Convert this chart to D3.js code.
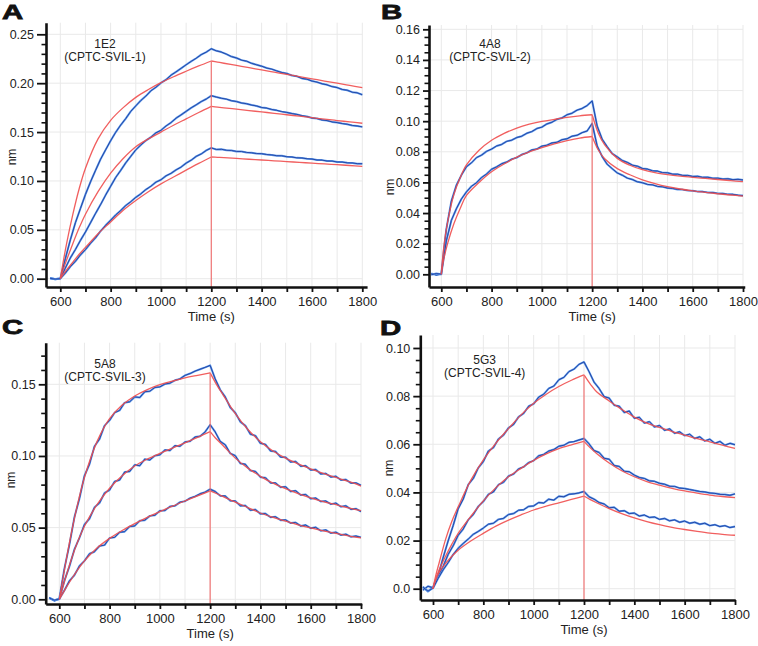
<!DOCTYPE html>
<html><head><meta charset="utf-8">
<script src="https://cdn.jsdelivr.net/npm/d3@7"></script>
<style>
body{margin:0;background:#fff;}
svg{display:block;font-family:"Liberation Sans",Arial,Helvetica,sans-serif;}
</style>
</head><body>
<svg id="chart" width="758" height="646"></svg>
<script>
// ---------- shared sampling times ----------
const blueTimes = [560,580,600,620,640,660,680,700,720,740,760,780,800,820,840,860,880,900,920,940,960,980,1000,1020,1040,1060,1080,1100,1120,1140,1160,1180,1200,
  1220,1240,1260,1280,1300,1320,1340,1360,1380,1400,1420,1440,1460,1480,1500,1520,1540,1560,1580,1600,1620,1640,1660,1680,1700,1720,1740,1760,1780,1800];
const fitRiseTimes = [600,610,625,650,675,700,750,800,850,900,950,1000,1050,1100,1150,1200];
const fitDecayTimes = [1200,1225,1250,1300,1350,1400,1450,1500,1550,1600,1650,1700,1750,1800];
const xTickValues = [600,700,800,900,1000,1100,1200,1300,1400,1500,1600,1700,1800];
const xTickLabels = ["600","","800","","1000","","1200","","1400","","1600","","1800"];
const xTitle = "Time (s)";
const yTitle = "nm";

// ---------- Panel A : 1E2 ----------
const aTitle = ["1E2", "(CPTC-SVIL-1)"];
const aYTicks = [0,0.05,0.10,0.15,0.20,0.25];
const aYLabels = ["0.00","0.05","0.10","0.15","0.20","0.25"];
const aBlue1 = [0.0008,-0.0006,0.0002,0.0205,0.0398,0.0572,0.0718,0.0862,0.0991,0.1108,0.1222,0.1318,0.1412,0.1497,0.1572,0.1638,0.1712,0.1768,0.1823,0.1868,0.1922,0.1958,0.2003,0.2036,0.2082,0.2116,0.2152,0.2188,0.2223,0.2255,0.2292,0.2318,0.2352,
  0.2331,0.2318,0.2297,0.2272,0.2258,0.2236,0.2225,0.2203,0.2188,0.2174,0.2155,0.2144,0.2126,0.2109,0.2099,0.2079,0.2070,0.2049,0.2041,0.2022,0.2011,0.1994,0.1983,0.1965,0.1955,0.1936,0.1928,0.1908,0.1901,0.1882];
const aBlue2 = [0.0004,-0.0005,0.0001,0.0108,0.0213,0.0298,0.0392,0.0478,0.0572,0.0668,0.0758,0.0855,0.0945,0.1035,0.1108,0.1185,0.1252,0.1318,0.1368,0.1413,0.1448,0.1492,0.1518,0.1562,0.1597,0.1642,0.1676,0.1712,0.1748,0.1779,0.1812,0.1838,0.1872,
  0.1858,0.1846,0.1837,0.1821,0.1812,0.1798,0.1790,0.1776,0.1767,0.1751,0.1745,0.1731,0.1722,0.1709,0.1701,0.1689,0.1681,0.1667,0.1659,0.1644,0.1638,0.1624,0.1617,0.1604,0.1597,0.1587,0.1580,0.1568,0.1562,0.1553];
const aBlue3 = [0.0003,-0.0004,0.0001,0.0058,0.0123,0.0178,0.0243,0.0298,0.0362,0.0418,0.0487,0.0546,0.0598,0.0652,0.0697,0.0748,0.0788,0.0832,0.0868,0.0912,0.0946,0.0988,0.1012,0.1052,0.1078,0.1113,0.1142,0.1182,0.1212,0.1251,0.1276,0.1312,0.1338,
  0.1322,0.1324,0.1314,0.1312,0.1302,0.1301,0.1292,0.1288,0.1280,0.1279,0.1270,0.1266,0.1258,0.1257,0.1248,0.1245,0.1236,0.1235,0.1227,0.1224,0.1214,0.1213,0.1204,0.1203,0.1194,0.1193,0.1185,0.1184,0.1177,0.1176];
const aFitRise1 = [0,0.015,0.036,0.066,0.092,0.113,0.143,0.162,0.175,0.1855,0.1935,0.2005,0.2066,0.2122,0.2176,0.2227];
const aFitDecay1 = [0.2227,0.2216,0.2204,0.2181,0.2158,0.2136,0.2113,0.2090,0.2068,0.2045,0.2022,0.2000,0.1977,0.1954];
const aFitRise2 = [0,0.008,0.019,0.036,0.052,0.066,0.089,0.108,0.123,0.135,0.143,0.150,0.157,0.1635,0.170,0.1762];
const aFitDecay2 = [0.1762,0.1755,0.1748,0.1734,0.1720,0.1706,0.1692,0.1677,0.1662,0.1647,0.1632,0.1618,0.1604,0.1590];
const aFitRise3 = [0,0.004,0.009,0.017,0.025,0.032,0.046,0.058,0.070,0.080,0.089,0.097,0.104,0.111,0.118,0.1245];
const aFitDecay3 = [0.1245,0.1242,0.1238,0.1230,0.1222,0.1214,0.1206,0.1198,0.1190,0.1182,0.1174,0.1166,0.1158,0.1148];

// ---------- Panel B : 4A8 ----------
const bTitle = ["4A8", "(CPTC-SVIL-2)"];
const bYTicks = [0,0.02,0.04,0.06,0.08,0.10,0.12,0.14,0.16];
const bYLabels = ["0.00","0.02","0.04","0.06","0.08","0.10","0.12","0.14","0.16"];
const bBlue1 = [0.0006,-0.0005,0.0002,0.0295,0.0478,0.0582,0.0648,0.0702,0.0728,0.0762,0.0778,0.0803,0.0818,0.0838,0.0848,0.0868,0.0876,0.0893,0.0902,0.0921,0.0932,0.0952,0.0961,0.0982,0.0993,0.1012,0.1021,0.1042,0.1052,0.1072,0.1083,0.1102,0.1132,
  0.0968,0.0882,0.0833,0.0788,0.0767,0.0743,0.0731,0.0713,0.0706,0.0691,0.0687,0.0676,0.0674,0.0664,0.0663,0.0654,0.0654,0.0646,0.0646,0.0639,0.0640,0.0633,0.0634,0.0627,0.0628,0.0622,0.0624,0.0618,0.0620,0.0616];
const bBlue2 = [-0.0003,0.0005,0.0001,0.0218,0.0352,0.0428,0.0492,0.0538,0.0575,0.0598,0.0632,0.0655,0.0686,0.0702,0.0722,0.0733,0.0752,0.0762,0.0782,0.0793,0.0812,0.0818,0.0837,0.0843,0.0858,0.0862,0.0879,0.0885,0.0902,0.0908,0.0925,0.0936,0.0985,
  0.0838,0.0768,0.0718,0.0690,0.0662,0.0647,0.0628,0.0619,0.0604,0.0598,0.0587,0.0584,0.0574,0.0571,0.0563,0.0561,0.0554,0.0553,0.0547,0.0546,0.0540,0.0540,0.0534,0.0534,0.0528,0.0528,0.0522,0.0522,0.0517,0.0514];
const bFitRise1 = [0,0.018,0.034,0.052,0.063,0.0714,0.081,0.0875,0.092,0.0955,0.098,0.0998,0.1012,0.1025,0.1035,0.1042];
const bFitDecay1 = [0.1042,0.092,0.0845,0.0757,0.0712,0.0683,0.0664,0.0651,0.0641,0.0633,0.0626,0.0619,0.0612,0.0605];
const bFitRise2 = [0,0.010,0.020,0.033,0.043,0.0515,0.060,0.067,0.072,0.0765,0.080,0.0828,0.0852,0.0873,0.0890,0.0900];
const bFitDecay2 = [0.0900,0.0810,0.0755,0.0690,0.0650,0.0617,0.0592,0.0572,0.0557,0.0545,0.0535,0.0526,0.0518,0.0511];

// ---------- Panel C : 5A8 ----------
const cTitle = ["5A8", "(CPTC-SVIL-3)"];
const cYTicks = [0,0.05,0.10,0.15];
const cYLabels = ["0.00","0.05","0.10","0.15"];
const cBlue1 = [0.0012,-0.0008,0.0004,0.0212,0.0378,0.0572,0.0702,0.0862,0.0942,0.1068,0.1118,0.1212,0.1248,0.1302,0.1318,0.1372,0.1378,0.1412,0.1408,0.1448,0.1452,0.1478,0.1482,0.1502,0.1508,0.1528,0.1538,0.1562,0.1575,0.1592,0.1605,0.1618,0.1632,
  0.1538,0.1462,0.1412,0.1338,0.1302,0.1238,0.1212,0.1152,0.1142,0.1088,0.1081,0.1035,0.1032,0.0992,0.0991,0.0958,0.0962,0.0929,0.0932,0.0902,0.0905,0.0875,0.0878,0.0853,0.0858,0.0832,0.0835,0.0811,0.0812,0.0795];
const cBlue2 = [0.0008,-0.0010,0.0003,0.0128,0.0228,0.0348,0.0428,0.0522,0.0562,0.0642,0.0672,0.0742,0.0762,0.0822,0.0832,0.0888,0.0892,0.0938,0.0932,0.0978,0.0972,0.1002,0.1008,0.1042,0.1038,0.1072,0.1068,0.1098,0.1102,0.1132,0.1138,0.1168,0.1218,
  0.1168,0.1102,0.1078,0.1018,0.1002,0.0948,0.0942,0.0898,0.0892,0.0852,0.0848,0.0812,0.0812,0.0782,0.0785,0.0752,0.0758,0.0728,0.0731,0.0702,0.0706,0.0682,0.0686,0.0664,0.0671,0.0646,0.0652,0.0628,0.0632,0.0612];
const cBlue3 = [0.0010,-0.0006,0.0002,0.0062,0.0128,0.0168,0.0232,0.0268,0.0318,0.0332,0.0372,0.0378,0.0428,0.0432,0.0468,0.0472,0.0508,0.0512,0.0548,0.0552,0.0582,0.0586,0.0618,0.0619,0.0648,0.0652,0.0678,0.0684,0.0706,0.0718,0.0736,0.0748,0.0768,
  0.0752,0.0722,0.0721,0.0688,0.0686,0.0652,0.0654,0.0622,0.0626,0.0596,0.0598,0.0572,0.0576,0.0552,0.0554,0.0532,0.0536,0.0512,0.0518,0.0496,0.0502,0.0478,0.0484,0.0462,0.0468,0.0448,0.0454,0.0436,0.0441,0.0432];
const cFitRise1 = [0,0.010,0.025,0.048,0.068,0.085,0.110,0.126,0.1355,0.1418,0.1463,0.1497,0.1522,0.1545,0.1563,0.158];
const cFitDecay1 = [0.158,0.150,0.143,0.1295,0.1185,0.1100,0.1035,0.0985,0.0945,0.0910,0.0878,0.0850,0.0822,0.0790];
const cFitRise2 = [0,0.006,0.015,0.029,0.041,0.051,0.066,0.0775,0.0862,0.093,0.0978,0.1018,0.1055,0.1092,0.1130,0.1170];
const cFitDecay2 = [0.1170,0.1118,0.1075,0.0985,0.0915,0.0858,0.0810,0.0772,0.0738,0.0708,0.0682,0.0660,0.0638,0.0618];
const cFitRise3 = [0,0.003,0.0075,0.0145,0.021,0.0268,0.0358,0.0425,0.048,0.0528,0.0572,0.0612,0.065,0.0686,0.0721,0.0757];
const cFitDecay3 = [0.0757,0.0738,0.0718,0.0678,0.0640,0.0602,0.0572,0.0545,0.0520,0.0498,0.0478,0.0460,0.0443,0.0428];

// ---------- Panel D : 5G3 ----------
const dTitle = ["5G3", "(CPTC-SVIL-4)"];
const dYTicks = [0,0.02,0.04,0.06,0.08,0.10];
const dYLabels = ["0.0","0.02","0.04","0.06","0.08","0.10"];
const dBlue1 = [0.0008,-0.0012,0.0006,0.0052,0.0128,0.0198,0.0262,0.0332,0.0372,0.0432,0.0458,0.0502,0.0528,0.0572,0.0586,0.0622,0.0638,0.0668,0.0682,0.0714,0.0728,0.0758,0.0768,0.0796,0.0808,0.0832,0.0842,0.0868,0.0878,0.0902,0.0912,0.0932,0.0942,
  0.0902,0.0858,0.0832,0.0798,0.0792,0.0762,0.0758,0.0732,0.0738,0.0708,0.0712,0.0688,0.0694,0.0672,0.0678,0.0658,0.0664,0.0646,0.0652,0.0636,0.0642,0.0624,0.0631,0.0614,0.0621,0.0604,0.0612,0.0596,0.0604,0.0598];
const dBlue2 = [-0.0006,0.0010,0.0004,0.0048,0.0092,0.0142,0.0178,0.0222,0.0248,0.0286,0.0308,0.0342,0.0362,0.0392,0.0402,0.0432,0.0442,0.0468,0.0476,0.0498,0.0506,0.0524,0.0532,0.0552,0.0558,0.0572,0.0578,0.0592,0.0596,0.0608,0.0611,0.0618,0.0624,
  0.0602,0.0574,0.0566,0.0542,0.0538,0.0512,0.0508,0.0488,0.0486,0.0472,0.0462,0.0458,0.0448,0.0446,0.0438,0.0434,0.0426,0.0425,0.0418,0.0416,0.0412,0.0408,0.0404,0.0402,0.0398,0.0396,0.0392,0.0391,0.0388,0.0394];
const dBlue3 = [0.0006,-0.0010,0.0002,0.0042,0.0078,0.0108,0.0142,0.0168,0.0188,0.0206,0.0226,0.0238,0.0252,0.0268,0.0272,0.0288,0.0292,0.0308,0.0312,0.0326,0.0328,0.0342,0.0344,0.0358,0.0356,0.0372,0.0368,0.0384,0.0382,0.0392,0.0394,0.0398,0.0404,
  0.0382,0.0372,0.0358,0.0352,0.0336,0.0338,0.0322,0.0324,0.0312,0.0314,0.0302,0.0306,0.0296,0.0298,0.0288,0.0292,0.0282,0.0286,0.0276,0.0281,0.0272,0.0276,0.0268,0.0272,0.0262,0.0266,0.0258,0.0262,0.0254,0.0258];
const dFitRise1 = [0,0.005,0.011,0.0205,0.028,0.034,0.045,0.0535,0.0605,0.0665,0.0722,0.0770,0.0808,0.0840,0.0866,0.0888];
const dFitDecay1 = [0.0888,0.0850,0.0818,0.0780,0.0745,0.0713,0.0688,0.0670,0.0653,0.0638,0.0623,0.0610,0.0596,0.0583];
const dFitRise2 = [0,0.004,0.008,0.0135,0.0185,0.023,0.030,0.0365,0.042,0.0465,0.050,0.0533,0.056,0.0582,0.0598,0.0612];
const dFitDecay2 = [0.0612,0.0585,0.0562,0.0522,0.0490,0.0465,0.0445,0.0430,0.0417,0.0406,0.0397,0.0389,0.0383,0.0378];
const dFitRise3 = [0,0.0035,0.007,0.0105,0.0135,0.016,0.0198,0.023,0.026,0.0285,0.0307,0.0327,0.0343,0.0357,0.0371,0.0385];
const dFitDecay3 = [0.0385,0.0370,0.0357,0.0333,0.0312,0.0294,0.0279,0.0266,0.0255,0.0246,0.0238,0.0231,0.0226,0.0222];

// ---------- layout (positions only) ----------
const panels = [
  {letter:"A", letterPos:[2,18.5], yAxisX:46, xRef:[60.3,362.3], yRef:[278.7,34.3], yRefVals:[0,0.25], xAxisY:287, yTopPx:22.7, xEnd:1819, tick:9,
   yTicks:aYTicks, yLabels:aYLabels, minorStep:0.01, minorMax:0.25, nmPos:[12,157], titlePos:[105,47.5], title:aTitle,
   blue:[aBlue1,aBlue2,aBlue3], rise:[aFitRise1,aFitRise2,aFitRise3], decay:[aFitDecay1,aFitDecay2,aFitDecay3]},
  {letter:"B", letterPos:[381,18.5], yAxisX:429, xRef:[441.3,743], yRef:[274.3,29.3], yRefVals:[0,0.16], xAxisY:287, yTopPx:25, xEnd:1807, tick:6,
   yTicks:bYTicks, yLabels:bYLabels, minorStep:0.005, minorMax:0.16, nmPos:[390,187], titlePos:[490,47.5], title:bTitle,
   blue:[bBlue1,bBlue2], rise:[bFitRise1,bFitRise2], decay:[bFitDecay1,bFitDecay2]},
  {letter:"C", letterPos:[2,334], yAxisX:45.7, xRef:[59.3,361], yRef:[599.3,384.3], yRefVals:[0,0.15], xAxisY:604, yTopPx:342.7, xEnd:1803, tick:7,
   yTicks:cYTicks, yLabels:cYLabels, minorStep:0.01, minorMax:0.175, nmPos:[11,480], titlePos:[105,367.5], title:cTitle,
   blue:[cBlue1,cBlue2,cBlue3], rise:[cFitRise1,cFitRise2,cFitRise3], decay:[cFitDecay1,cFitDecay2,cFitDecay3]},
  {letter:"D", letterPos:[380,335], yAxisX:420.3, xRef:[433,735], yRef:[588.7,348], yRefVals:[0,0.10], xAxisY:600, yTopPx:335, xEnd:1801, tick:7,
   yTicks:dYTicks, yLabels:dYLabels, minorStep:0.005, minorMax:0.10, nmPos:[389,468], titlePos:[484.7,363.5], title:dTitle,
   blue:[dBlue1,dBlue2,dBlue3], rise:[dFitRise1,dFitRise2,dFitRise3], decay:[dFitDecay1,dFitDecay2,dFitDecay3]}
];

const svg = d3.select("#chart");
svg.append("rect").attr("width",758).attr("height",646).attr("fill","#fff");

panels.forEach(p => {
  const xs = (p.xRef[1]-p.xRef[0])/(1800-600);
  const xStart = 600 + (p.yAxisX - p.xRef[0])/xs;
  const x = d3.scaleLinear().domain([xStart, p.xEnd])
    .range([p.yAxisX, p.xRef[0] + (p.xEnd-600)*xs]);
  const ys = (p.yRef[1]-p.yRef[0])/(p.yRefVals[1]-p.yRefVals[0]);
  const yMin = p.yRefVals[0] + (p.xAxisY - p.yRef[0])/ys;
  const yMax = p.yRefVals[0] + (p.yTopPx - p.yRef[0])/ys;
  const y = d3.scaleLinear().domain([yMin, yMax]).range([p.xAxisY, p.yTopPx]);

  const g = svg.append("g");

  // grid
  const grid = g.append("g").attr("stroke","#e9e9e9").attr("stroke-width",1);
  xTickValues.forEach(t => grid.append("line")
    .attr("x1",x(t)).attr("x2",x(t)).attr("y1",p.yTopPx).attr("y2",p.xAxisY));
  p.yTicks.forEach(t => grid.append("line")
    .attr("x1",p.yAxisX).attr("x2",x(1800)).attr("y1",y(t)).attr("y2",y(t)));

  // blue measured traces
  const blueLine = d3.line().x((d,i)=>x(blueTimes[i])).y(d=>y(d));
  p.blue.forEach(arr => {
    g.append("path").attr("d",blueLine(arr)).attr("fill","none")
      .attr("stroke","#5b97ea").attr("stroke-width",2.0).attr("stroke-linejoin","round");
    g.append("path").attr("d",blueLine(arr)).attr("fill","none")
      .attr("stroke","#1f3f9f").attr("stroke-width",0.9).attr("stroke-linejoin","round");
  });

  // red fits
  const riseLine = d3.line().x((d,i)=>x(fitRiseTimes[i])).y(d=>y(d)).curve(d3.curveCatmullRom.alpha(0.5));
  const decayLine = d3.line().x((d,i)=>x(fitDecayTimes[i])).y(d=>y(d)).curve(d3.curveCatmullRom.alpha(0.5));
  const red = g.append("g").attr("fill","none").attr("stroke","#f04e4e").attr("stroke-width",1.3).attr("opacity",0.9);
  p.rise.forEach(arr => red.append("path").attr("d",riseLine(arr)));
  p.decay.forEach(arr => red.append("path").attr("d",decayLine(arr)));
  const peak = d3.max(p.rise, a => a[a.length-1]);
  red.append("line").attr("x1",x(1200)).attr("x2",x(1200)).attr("y1",y(yMin)).attr("y2",y(peak))
    .attr("stroke","#f26a6a").attr("stroke-width",1.2);

  // y axis
  const yAx = g.append("g").attr("transform",`translate(${p.yAxisX},0)`)
    .call(d3.axisLeft(y).tickValues(p.yTicks).tickFormat((d,i)=>p.yLabels[i]).tickSize(p.tick).tickPadding(3).tickSizeOuter(0));
  const minor = d3.range(0, p.minorMax + 1e-9, p.minorStep)
    .filter(v => !p.yTicks.some(t => Math.abs(t-v) < 1e-9));
  g.append("g").attr("transform",`translate(${p.yAxisX},0)`)
    .call(d3.axisLeft(y).tickValues(minor).tickSize(4.5).tickFormat("").tickSizeOuter(0))
    .call(s => s.select(".domain").remove())
    .selectAll("line").attr("stroke","#111").attr("stroke-width",1.6);
  yAx.select(".domain").attr("stroke","#111").attr("stroke-width",2.6);
  yAx.selectAll(".tick line").attr("stroke","#111").attr("stroke-width",1.8);
  yAx.selectAll("text").attr("font-size",12.5).attr("fill","#222")
    .attr("font-family",'"Liberation Sans",Arial,sans-serif');

  // x axis
  const xAx = g.append("g").attr("transform",`translate(0,${p.xAxisY})`)
    .call(d3.axisBottom(x).tickValues(xTickValues).tickFormat((d,i)=>xTickLabels[i]).tickSize(5).tickPadding(5).tickSizeOuter(0));
  xAx.select(".domain").attr("stroke","#111").attr("stroke-width",2.6);
  xAx.selectAll(".tick line").attr("stroke","#111").attr("stroke-width",1.8);
  xAx.selectAll("text").attr("font-size",13).attr("fill","#222")
    .attr("font-family",'"Liberation Sans",Arial,sans-serif');

  // titles
  g.append("text").attr("x",x(1200)).attr("y",p.xAxisY+34).attr("text-anchor","middle")
    .attr("font-size",13).attr("fill","#222").text(xTitle);
  g.append("text").attr("transform",`translate(${p.nmPos[0]+4},${p.nmPos[1]}) rotate(-90)`)
    .attr("text-anchor","middle").attr("font-size",12).attr("fill","#222").text(yTitle);
  g.append("text").attr("x",p.titlePos[0]).attr("y",p.titlePos[1]).attr("text-anchor","middle")
    .attr("font-size",12).attr("fill","#222").text(p.title[0]);
  g.append("text").attr("x",p.titlePos[0]).attr("y",p.titlePos[1]+13).attr("text-anchor","middle")
    .attr("font-size",12).attr("fill","#222").text(p.title[1]);

  // panel letter
  g.append("text").attr("transform",`translate(${p.letterPos[0]},${p.letterPos[1]}) scale(1.4,1)`)
    .attr("font-size",21).attr("font-weight","bold").attr("fill","#111")
    .attr("stroke","#111").attr("stroke-width",0.8).text(p.letter);
});
</script>
</body></html>
